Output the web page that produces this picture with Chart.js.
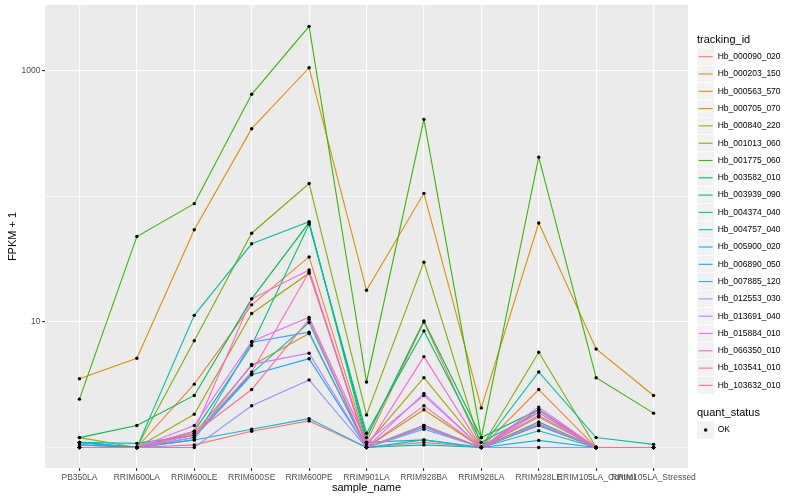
<!DOCTYPE html>
<html>
<head>
<meta charset="utf-8">
<script src="https://cdn.jsdelivr.net/npm/chart.js@4.4.0/dist/chart.umd.min.js"></script>
<style>
  html, body { margin: 0; padding: 0; background: #fff; }
  #wrap { width: 800px; height: 500px; }
</style>
</head>
<body>
<div id="wrap"><canvas id="grafico" width="800" height="500"></canvas></div>
<script>
const categories = ["PB350LA", "RRIM600LA", "RRIM600LE", "RRIM600SE", "RRIM600PE", "RRIM901LA",
  "RRIM928BA", "RRIM928LA", "RRIM928LE", "RRIM105LA_Control", "RRIM105LA_Stressed"];

const trackingIds = ["Hb_000090_020", "Hb_000203_150", "Hb_000563_570", "Hb_000705_070", "Hb_000840_220",
  "Hb_001013_060", "Hb_001775_060", "Hb_003582_010", "Hb_003939_090", "Hb_004374_040",
  "Hb_004757_040", "Hb_005900_020", "Hb_006890_050", "Hb_007885_120", "Hb_012553_030",
  "Hb_013691_040", "Hb_015884_010", "Hb_066350_010", "Hb_103541_010", "Hb_103632_010"];

const colors = ["#F8766D", "#EA8331", "#D89000", "#C09B00", "#A3A500", "#7CAE00", "#39B600", "#00BB4E",
  "#00BF7D", "#00C1A3", "#00BFC4", "#00BAE0", "#00B0F6", "#35A2FF", "#9590FF", "#C77CFF",
  "#E76BF3", "#FA62DB", "#FF62BC", "#FF6C91"];

// FPKM + 1, one value per sample_name
const hb_000090_020 = [1.05, 1.0, 1.05, 1.35, 1.63, 1.0, 1.1, 1.0, 1.5, 1.0, 1.0];
const hb_000203_150 = [1.0, 1.0, 3.2, 13.7, 33, 1.1, 10.0, 1.0, 2.9, 1.0, 1.0];
const hb_000563_570 = [3.53, 5.14, 54.3, 347, 1062, 17.9, 106, 2.07, 61.5, 6.1, 2.6];
const hb_000705_070 = [1.0, 1.0, 1.3, 4.5, 8.1, 1.0, 2.0, 1.0, 1.75, 1.0, 1.0];
const hb_000840_220 = [1.2, 1.0, 1.84, 11.7, 24.5, 1.05, 3.6, 1.0, 2.0, 1.0, 1.0];
const hb_001013_060 = [1.0, 1.0, 7.1, 51, 127, 1.82, 30, 1.0, 5.74, 1.0, 1.0];
const hb_001775_060 = [2.43, 48, 87.7, 652, 2270, 3.33, 412, 1.2, 206, 3.6, 1.88];
const hb_003582_010 = [1.2, 1.5, 2.6, 15.3, 62, 1.2, 10.2, 1.2, 2.0, 1.0, 1.0];
const hb_003939_090 = [1.1, 1.0, 1.35, 6.5, 60, 1.3, 8.5, 1.1, 1.9, 1.0, 1.0];
const hb_004374_040 = [1.1, 1.0, 11.3, 42, 63, 1.1, 1.15, 1.0, 4.0, 1.2, 1.06];
const hb_004757_040 = [1.1, 1.08, 1.25, 3.9, 9.9, 1.0, 1.05, 1.0, 1.36, 1.0, 1.0];
const hb_005900_020 = [1.1, 1.0, 1.15, 1.4, 1.7, 1.0, 1.15, 1.0, 1.14, 1.0, 1.0];
const hb_006890_050 = [1.05, 1.0, 1.2, 3.8, 5.1, 1.0, 1.5, 1.0, 1.6, 1.0, 1.0];
const hb_007885_120 = [1.0, 1.0, 1.15, 6.9, 8.3, 1.0, 1.45, 1.0, 1.5, 1.0, 1.0];
const hb_012553_030 = [1.0, 1.0, 1.0, 2.15, 3.46, 1.0, 1.4, 1.0, 1.0, 1.0, 1.0];
const hb_013691_040 = [1.0, 1.0, 1.2, 4.6, 5.65, 1.0, 2.7, 1.0, 2.1, 1.0, 1.0];
const hb_015884_010 = [1.0, 1.0, 1.5, 7.0, 10.9, 1.1, 2.6, 1.0, 1.9, 1.0, 1.0];
const hb_066350_010 = [1.0, 1.0, 1.35, 15.3, 26, 1.0, 5.3, 1.0, 2.0, 1.0, 1.0];
const hb_103541_010 = [1.0, 1.0, 1.25, 4.0, 25, 1.0, 2.15, 1.0, 1.8, 1.0, 1.0];
const hb_103632_010 = [1.0, 1.0, 1.3, 2.9, 10.5, 1.0, 1.5, 1.0, 1.55, 1.0, 1.0];

const seriesValues = [hb_000090_020, hb_000203_150, hb_000563_570, hb_000705_070, hb_000840_220,
  hb_001013_060, hb_001775_060, hb_003582_010, hb_003939_090, hb_004374_040,
  hb_004757_040, hb_005900_020, hb_006890_050, hb_007885_120, hb_012553_030,
  hb_013691_040, hb_015884_010, hb_066350_010, hb_103541_010, hb_103632_010];

const yBreaks = [1, 10, 100, 1000];
const yLabels = [10, 1000];
const quantStatus = ["OK"];

const FONT = '"Liberation Sans", Arial, sans-serif';
Chart.defaults.font.family = FONT;

// fondo gris del panel
const panelPlugin = {
  id: "panel",
  beforeDraw(chart) {
    const { ctx, chartArea: a } = chart;
    ctx.save();
    ctx.fillStyle = "#EBEBEB";
    ctx.fillRect(a.left, a.top, a.right - a.left, a.bottom - a.top);
    ctx.restore();
  },
};

// leyendas al estilo ggplot
const legendPlugin = {
  id: "ggLegend",
  afterDraw(chart) {
    const ctx = chart.ctx;
    const x0 = 697, key = 17.3;
    ctx.save();
    ctx.textBaseline = "middle";
    ctx.textAlign = "left";
    ctx.fillStyle = "#000";
    ctx.font = "11px " + FONT;
    ctx.fillText("tracking_id", x0, 40);
    ctx.font = "8.5px " + FONT;
    trackingIds.forEach((id, i) => {
      const cy = 56.7 + i * key;
      ctx.fillStyle = "#F2F2F2";
      ctx.fillRect(x0, cy - key / 2, key, key);
      ctx.strokeStyle = "#FFFFFF";
      ctx.lineWidth = 0.6;
      ctx.strokeRect(x0, cy - key / 2, key, key);
      ctx.strokeStyle = colors[i];
      ctx.lineWidth = 1.1;
      ctx.beginPath();
      ctx.moveTo(x0 + 1.7, cy);
      ctx.lineTo(x0 + key - 1.7, cy);
      ctx.stroke();
      ctx.fillStyle = "#000";
      ctx.fillText(id, x0 + key + 3.4, cy);
    });
    ctx.font = "11px " + FONT;
    ctx.fillText("quant_status", x0, 412.7);
    quantStatus.forEach((s, i) => {
      const cy = 430 + i * key;
      ctx.fillStyle = "#F2F2F2";
      ctx.fillRect(x0, cy - key / 2, key, key);
      ctx.fillStyle = "#000";
      ctx.beginPath();
      ctx.arc(x0 + key / 2, cy, 1.8, 0, Math.PI * 2);
      ctx.fill();
      ctx.font = "8.5px " + FONT;
      ctx.fillText(s, x0 + key + 3.4, cy);
    });
    ctx.restore();
  },
};

const lineSets = seriesValues.map((vals, i) => ({
  label: trackingIds[i],
  data: vals.map((v, j) => ({ x: j, y: v })),
  borderColor: colors[i],
  backgroundColor: colors[i],
  borderWidth: 1.1,
  pointRadius: 0,
  fill: false,
  tension: 0,
  order: -i,
}));

const pointSet = {
  type: "scatter",
  label: "OK",
  data: seriesValues.flatMap((vals) => vals.map((v, j) => ({ x: j, y: v }))),
  backgroundColor: "#000",
  borderColor: "#000",
  borderWidth: 0,
  pointRadius: 1.7,
  showLine: false,
  order: -100,
};

const ctx = document.getElementById("grafico").getContext("2d");
new Chart(ctx, {
  type: "line",
  data: { datasets: [...lineSets, pointSet] },
  plugins: [panelPlugin, legendPlugin],
  options: {
    responsive: false,
    animation: false,
    events: [],
    layout: { padding: { top: 5, right: 112, left: 0, bottom: 0 } },
    plugins: { legend: { display: false }, tooltip: { enabled: false } },
    scales: {
      x: {
        type: "linear",
        min: -0.6,
        max: 10.6,
        afterBuildTicks: (s) => { s.ticks = categories.map((c, i) => ({ value: i })); },
        afterFit: (s) => { s.height = 32; s.paddingLeft = 0; s.paddingRight = 0; },
        ticks: {
          callback: (v) => categories[v],
          autoSkip: false,
          maxRotation: 0,
          minRotation: 0,
          color: "#4D4D4D",
          font: { size: 8.5 },
          padding: 2,
        },
        grid: { color: "#FFFFFF", lineWidth: 1.1, tickLength: 3, tickColor: "#333333", tickWidth: 1.1 },
        border: { display: false },
        title: { display: true, text: "sample_name", color: "#000", font: { size: 11 }, padding: { top: 0, bottom: 5.4 } },
      },
      y: {
        type: "logarithmic",
        min: 0.687,
        max: 3357,
        afterBuildTicks: (s) => { s.ticks = yBreaks.map((v) => ({ value: v })); },
        afterFit: (s) => { s.width = 45; s.paddingTop = 0; s.paddingBottom = 0; },
        ticks: {
          callback: (v) => (yLabels.includes(v) ? String(v) : ""),
          color: "#4D4D4D",
          font: { size: 8.5 },
          padding: 1.5,
        },
        grid: {
          color: "#FFFFFF",
          lineWidth: (c) => (c.tick && yLabels.includes(c.tick.value) ? 1.1 : 0.55),
          tickLength: 3,
          tickColor: (c) => (c.tick && yLabels.includes(c.tick.value) ? "#333333" : "rgba(0,0,0,0)"),
          tickWidth: 1.1,
        },
        border: { display: false },
        title: { display: true, text: "FPKM + 1", color: "#000", font: { size: 11 }, padding: { top: 6.7, bottom: 0 } },
      },
    },
  },
});
</script>
</body>
</html>
